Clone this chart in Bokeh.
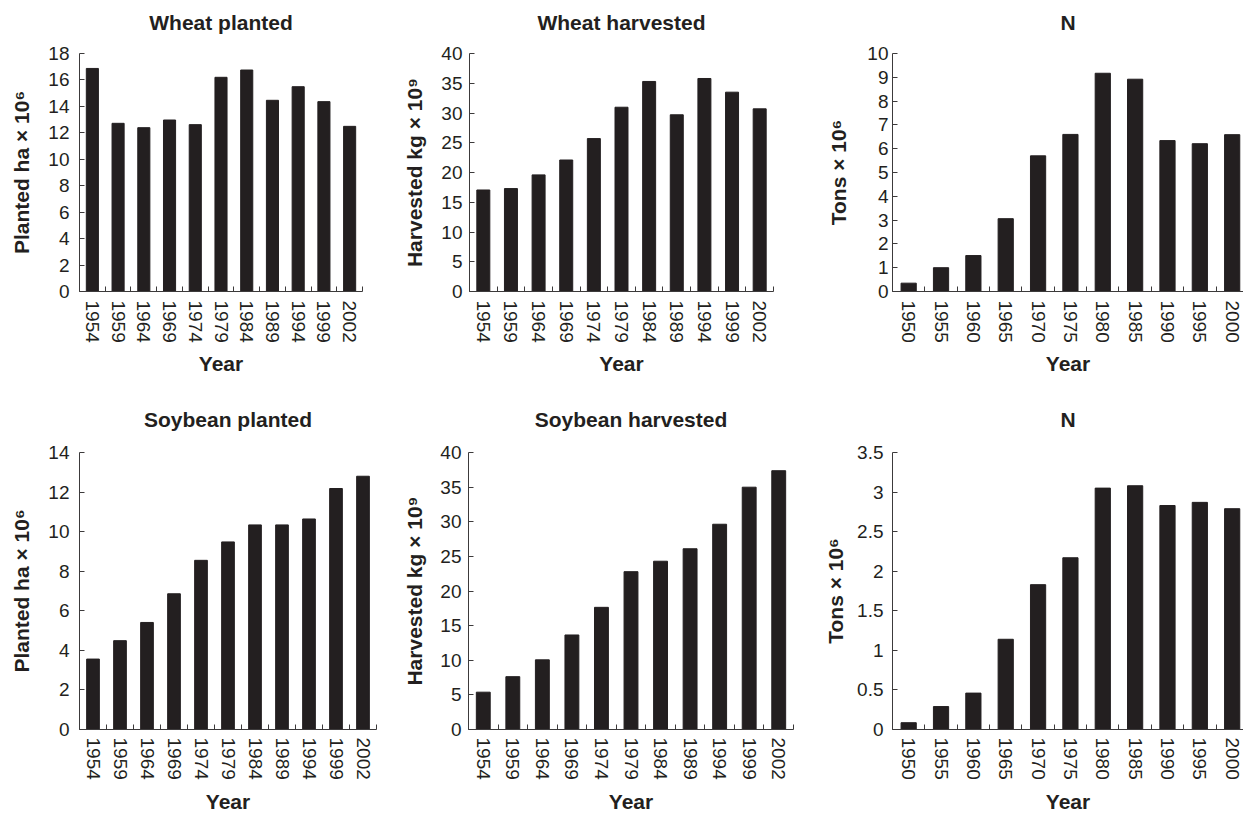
from bokeh.plotting import figure
from bokeh.layouts import column, row
from bokeh.models import Range1d, FixedTicker, NumeralTickFormatter, LinearAxis
from bokeh.embed import file_html
from bokeh.resources import INLINE

# ---------------- data ----------------
crop_years = ["1954", "1959", "1964", "1969", "1974", "1979", "1984", "1989", "1994", "1999", "2002"]
n_years = ["1950", "1955", "1960", "1965", "1970", "1975", "1980", "1985", "1990", "1995", "2000"]

wheat_planted = [16.87, 12.72, 12.39, 12.97, 12.62, 16.20, 16.75, 14.46, 15.49, 14.36, 12.49]
wheat_harvested = [17.06, 17.30, 19.60, 22.10, 25.70, 30.97, 35.30, 29.70, 35.80, 33.50, 30.70]
n_wheat = [0.35, 1.00, 1.51, 3.06, 5.70, 6.60, 9.17, 8.92, 6.34, 6.21, 6.59]

soy_planted = [3.56, 4.49, 5.41, 6.86, 8.55, 9.48, 10.34, 10.34, 10.64, 12.18, 12.80]
soy_harvested = [5.39, 7.63, 10.06, 13.65, 17.64, 22.79, 24.30, 26.10, 29.64, 34.99, 37.37]
n_soy = [0.086, 0.29, 0.46, 1.14, 1.83, 2.17, 3.05, 3.08, 2.83, 2.87, 2.79]

titles = ["Wheat planted", "Wheat harvested", "N", "Soybean planted", "Soybean harvested", "N"]
ylabels = ["Planted ha \u00d7 10\u2076", "Harvested kg \u00d7 10\u2079", "Tons \u00d7 10\u2076",
           "Planted ha \u00d7 10\u2076", "Harvested kg \u00d7 10\u2079", "Tons \u00d7 10\u2076"]
yticks_wheat_planted = [0, 2, 4, 6, 8, 10, 12, 14, 16, 18]
yticks_harvest = [0, 5, 10, 15, 20, 25, 30, 35, 40]
yticks_n_wheat = [0, 1, 2, 3, 4, 5, 6, 7, 8, 9, 10]
yticks_soy_planted = [0, 2, 4, 6, 8, 10, 12, 14]
yticks_n_soy = [0, 0.5, 1, 1.5, 2, 2.5, 3, 3.5]

INK = "#231f20"
AXIS = "#3c3a3b"
FONT = "Liberation Sans"


def panel(title, years, values, ylabel, yticks, width, height,
          bl, br, bt, bb, x_end, title_standoff, ylab_standoff, ytick_standoff,
          xtick_standoff, xlab_standoff):
    n = len(values)
    centers = [i + 0.5 for i in range(n)]
    p = figure(width=width, height=height, output_backend="svg", toolbar_location=None,
               x_range=Range1d(0, x_end), y_range=Range1d(yticks[0], yticks[-1]),
               min_border_left=bl, min_border_right=br, min_border_top=bt, min_border_bottom=bb,
               background_fill_color="white", border_fill_color="white")
    p.outline_line_color = None
    p.xgrid.visible = False
    p.ygrid.visible = False
    p.vbar(x=centers, top=values, bottom=0, width=0.47, fill_color=INK, line_color=INK)

    xa = p.below[0]
    xa.ticker = FixedTicker(ticks=centers, minor_ticks=list(range(0, n + 1)))
    xa.major_label_overrides = {c: y for c, y in zip(centers, years)}
    xa.major_tick_in = 0
    xa.major_tick_out = 0
    xa.minor_tick_in = 5
    xa.minor_tick_out = 0
    xa.minor_tick_line_color = AXIS
    xa.axis_line_color = AXIS
    xa.major_label_orientation = "vertical"
    xa.major_label_text_font = FONT
    xa.major_label_text_font_size = "19px"
    xa.major_label_text_color = INK
    xa.major_label_standoff = xtick_standoff
    xa.axis_label = "Year"
    xa.axis_label_text_font = FONT
    xa.axis_label_text_font_size = "21px"
    xa.axis_label_text_font_style = "bold"
    xa.axis_label_text_color = INK
    xa.axis_label_standoff = xlab_standoff

    ya = p.left[0]
    ya.ticker = FixedTicker(ticks=yticks, minor_ticks=[])
    ya.formatter = NumeralTickFormatter(format="0.[0]")
    ya.major_tick_in = 5
    ya.major_tick_out = 0
    ya.major_tick_line_color = AXIS
    ya.axis_line_color = AXIS
    ya.major_label_text_font = FONT
    ya.major_label_text_font_size = "19px"
    ya.major_label_text_color = INK
    ya.major_label_standoff = ytick_standoff
    ya.axis_label = ylabel
    ya.axis_label_text_font = FONT
    ya.axis_label_text_font_size = "21px"
    ya.axis_label_text_font_style = "bold"
    ya.axis_label_text_color = INK
    ya.axis_label_standoff = ylab_standoff

    # panel title, drawn as the label of a bare axis above the frame
    tax = LinearAxis(ticker=FixedTicker(ticks=[]), axis_label=title)
    tax.axis_line_color = None
    tax.major_tick_line_color = None
    tax.minor_tick_line_color = None
    tax.major_tick_in = 0
    tax.major_tick_out = 0
    tax.minor_tick_in = 0
    tax.minor_tick_out = 0
    tax.major_label_standoff = 0
    tax.axis_label_standoff = title_standoff
    tax.axis_label_text_font = FONT
    tax.axis_label_text_font_size = "21px"
    tax.axis_label_text_font_style = "bold"
    tax.axis_label_text_color = INK
    p.add_layout(tax, "above")
    return p


# row 1: 400 px tall, row 2: 415 px tall; columns 400 / 420 / 423 px wide
p1 = panel(titles[0], crop_years, wheat_planted, ylabels[0], yticks_wheat_planted,
           400, 400, 79, 38, 53, 109, 11, 20, 12, 10, 9, 6)
p2 = panel(titles[1], crop_years, wheat_harvested, ylabels[1], yticks_harvest,
           420, 400, 67, 47, 53, 109, 11, 20, 12, 7, 9, 6)
p3 = panel(titles[2], n_years, n_wheat, ylabels[2], yticks_n_wheat,
           423, 400, 72, 0, 53, 109, 10.85, 20, 14, 4, 9, 6)
p4 = panel(titles[3], crop_years, soy_planted, ylabels[3], yticks_soy_planted,
           400, 415, 79, 24, 52, 86, 11, 22, 12, 10, 8, 7)
p5 = panel(titles[4], crop_years, soy_harvested, ylabels[4], yticks_harvest,
           420, 415, 67, 27, 52, 86, 11, 22, 11, 7, 8, 7)
p6 = panel(titles[5], n_years, n_soy, ylabels[5], yticks_n_soy,
           423, 415, 72, 0, 52, 86, 10.85, 22, 7, 9, 8, 7)

layout = column(row(p1, p2, p3, spacing=0), row(p4, p5, p6, spacing=0), spacing=0)

with open("out.html", "w") as f:
    f.write(file_html(layout, INLINE))
